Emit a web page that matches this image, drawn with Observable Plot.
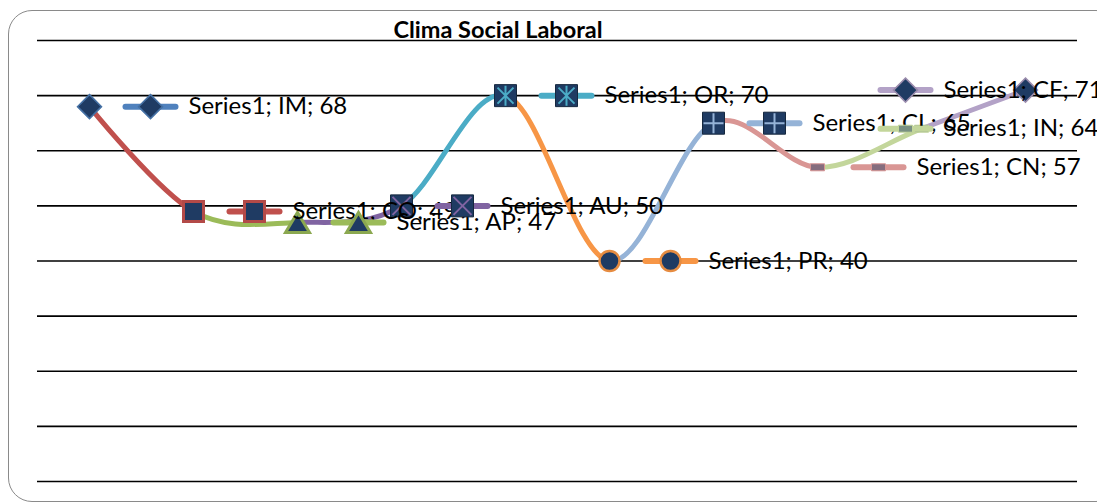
<!DOCTYPE html>
<html><head><meta charset="utf-8">
<script src="https://cdn.jsdelivr.net/npm/d3@7"></script>
<script src="https://cdn.jsdelivr.net/npm/@observablehq/plot@0.6"></script>
<style>
body{margin:0;background:#fff;}
#wrap{position:relative;width:1097px;height:502px;overflow:hidden;}
#chart{position:absolute;left:0;top:0;}
#frame{position:absolute;left:8px;top:10px;width:1110px;height:490px;border:1.5px solid #8a8a8a;border-radius:24px;pointer-events:none;z-index:2;}
#title{position:absolute;left:0;width:996px;top:17px;line-height:24px;text-align:center;font-family:Lato,sans-serif;font-weight:bold;font-size:23.5px;color:#000;z-index:1;}
</style></head>
<body><div id="wrap"><div id="chart"></div><div id="title">Clima Social Laboral</div><div id="frame"></div></div>
<script>
// ---- data ----
const seriesName = "Series1";
const categories = ["IM","CO","AP","AU","OR","PR","CL","CN","IN","CF"];
const values = [68,49,47,50,70,40,65,57,64,71];
const yTicks = [0,10,20,30,40,50,60,70,80];

// ---- styles ----
const colors = ["#4f81bd","#c0504d","#9bbb59","#8064a2","#4bacc6","#f79646","#95b3d7","#d99694","#c3d69b","#b3a2c7"];
const markerKinds = ["diamond","square","triangle","squareX","squareAst","circle","squarePlus","dash","dash","diamond"];
const NAVY = "#1f3b63";
const W = 1097, H = 502, mL = 37, mR = 20, mT = 40, mB = 21;
const FONT = "Lato, 'Open Sans', sans-serif";

const rows = categories.map((c, i) => ({cat: c, value: values[i], i}));

const sym = {
  diamond: {draw(c){c.moveTo(0,-12);c.lineTo(12,0);c.lineTo(0,12);c.lineTo(-12,0);c.closePath();}},
  square: {draw(c){c.rect(-10,-10,20,20);}},
  bigSquare: {draw(c){c.rect(-11,-11,22,22);}},
  triangle: {draw(c){c.moveTo(0,-10);c.lineTo(12,10);c.lineTo(-12,10);c.closePath();}},
  circle: {draw(c){c.moveTo(10,0);c.arc(0,0,10,0,2*Math.PI);}},
  dash: {draw(c){c.rect(-7,-3.5,14,7);}},
  times: {draw(c){c.moveTo(-9,-9);c.lineTo(9,9);c.moveTo(-9,9);c.lineTo(9,-9);}},
  plus: {draw(c){c.moveTo(-10,0);c.lineTo(10,0);c.moveTo(0,-10);c.lineTo(0,10);}},
  asterisk: {draw(c){c.moveTo(0,-10);c.lineTo(0,10);c.moveTo(-8,-8);c.lineTo(8,8);c.moveTo(-8,8);c.lineTo(8,-8);}},
  keyLine: {draw(c){c.moveTo(-25,0);c.lineTo(25,0);}}
};

function markerMarks(row, dx) {
  const col = colors[row.i], kind = markerKinds[row.i];
  const base = {x: "cat", y: "value", dx};
  const d = [row];
  const overlay = (s) => Plot.dot(d, {...base, symbol: s, fill: "none", stroke: col, strokeWidth: 2});
  switch (kind) {
    case "diamond":
      return [Plot.dot(d, {...base, symbol: sym.diamond, fill: NAVY, stroke: d3.color(col).darker(0.4).formatHex(), strokeWidth: 1.5})];
    case "square":
      return [Plot.dot(d, {...base, symbol: sym.square, fill: NAVY, stroke: d3.color(col).darker(0.2).formatHex(), strokeWidth: 3})];
    case "triangle":
      return [Plot.dot(d, {...base, symbol: sym.triangle, fill: NAVY, stroke: d3.color(col).darker(0.3).formatHex(), strokeWidth: 3})];
    case "circle":
      return [Plot.dot(d, {...base, symbol: sym.circle, fill: NAVY, stroke: d3.color(col).darker(0.2).formatHex(), strokeWidth: 2.5})];
    case "dash":
      return [Plot.dot(d, {...base, symbol: sym.dash, fill: d3.interpolateRgb(col, NAVY)(0.45), stroke: col, strokeWidth: 1})];
    case "squareX":
      return [Plot.dot(d, {...base, symbol: sym.bigSquare, fill: NAVY, stroke: "#16283f", strokeWidth: 1}), overlay(sym.times)];
    case "squareAst":
      return [Plot.dot(d, {...base, symbol: sym.bigSquare, fill: NAVY, stroke: "#16283f", strokeWidth: 1}), overlay(sym.asterisk)];
    case "squarePlus":
      return [Plot.dot(d, {...base, symbol: sym.bigSquare, fill: NAVY, stroke: "#16283f", strokeWidth: 1}), overlay(sym.plus)];
  }
}

const xs = Plot.scale({x: {type: "point", domain: categories, range: [mL, W - mR], padding: 0.5}});

const marks = [];
marks.push(Plot.ruleY(yTicks, {y: d => d, stroke: "#000", strokeWidth: 1.6}));
// smoothed line, one copy per segment colour (clipped afterwards)
for (let i = 1; i < rows.length; i++) {
  marks.push(Plot.line(rows, {x: "cat", y: "value", curve: "cardinal", stroke: colors[i], strokeWidth: 5, strokeLinejoin: "round"}));
}
// point markers
rows.forEach(r => marks.push(...markerMarks(r, 0)));
// data labels with legend keys
rows.forEach(r => {
  const px = xs.apply(r.cat);
  const start = Math.min(px + 33, 877);
  const kdx = start + 28 - px, tdx = start + 66 - px;
  marks.push(Plot.dot([r], {x: "cat", y: "value", dx: kdx, symbol: sym.keyLine, fill: "none", stroke: colors[r.i], strokeWidth: 6, strokeLinecap: "round"}));
  marks.push(...markerMarks(r, kdx));
  marks.push(Plot.text([r], {x: "cat", y: "value", dx: tdx, text: d => `${seriesName}; ${d.cat}; ${d.value}`, textAnchor: "start", fontSize: 24, fontFamily: FONT, fill: "#000"}));
});

const plot = Plot.plot({
  width: W, height: H,
  marginLeft: mL, marginRight: mR, marginTop: mT, marginBottom: mB,
  x: {type: "point", domain: categories, padding: 0.5, axis: null},
  y: {domain: [0, 80], axis: null},
  marks
});

const xsc = plot.scale("x");
const svg = d3.select(plot);
const defs = svg.insert("defs", ":first-child");
svg.selectAll('g[aria-label="line"]').nodes().forEach((g, k) => {
  const i = k + 1;
  const x0 = xsc.apply(categories[i - 1]), x1 = xsc.apply(categories[i]);
  defs.append("clipPath").attr("id", "seg" + i).append("rect")
    .attr("x", x0).attr("y", 0).attr("width", x1 - x0).attr("height", H);
  d3.select(g).attr("clip-path", `url(#seg${i})`);
});
document.getElementById("chart").appendChild(plot);
</script>
</body></html>
